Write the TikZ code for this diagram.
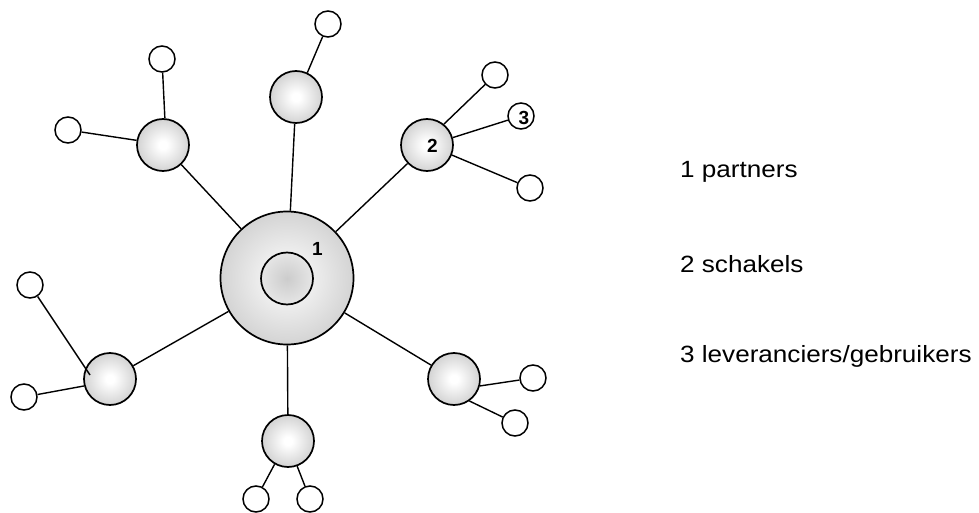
\documentclass[tikz,border=0pt]{standalone}
\usepackage{fontspec}
\setmainfont{Liberation Sans}
\definecolor{satgray}{gray}{0.62}
\definecolor{biggray}{gray}{0.66}
\definecolor{innergray}{gray}{0.80}
\pgfdeclareradialshading{satshade}{\pgfpoint{0bp}{0bp}}{color(0bp)=(white); color(4bp)=(white); color(50bp)=(satgray)}
\pgfdeclareradialshading{bigshade}{\pgfpoint{0bp}{0bp}}{color(0bp)=(white); color(50bp)=(biggray)}
\pgfdeclareradialshading{innershade}{\pgfpoint{0bp}{0bp}}{color(0bp)=(innergray); color(50bp)=(white)}
\begin{document}
\begin{tikzpicture}[x=1pt,y=-1pt,
  bigc/.style={circle,draw,line width=1.7pt,inner sep=0pt,minimum size=133pt,shading=bigshade},
  innerc/.style={circle,draw,line width=1.7pt,inner sep=0pt,minimum size=52pt,shading=innershade},
  sat/.style={circle,draw,line width=1.7pt,inner sep=0pt,minimum size=52pt,shading=satshade},
  leaf/.style={circle,draw,line width=1.5pt,inner sep=0pt,minimum size=26pt,fill=white},
  conn/.style={line width=1.4pt},
  numlab/.style={inner sep=0pt,font=\bfseries\fontsize{19}{19}\selectfont},
  legend/.style={inner sep=0pt,font=\fontsize{23.5}{28}\selectfont}]
\useasboundingbox (0,0) rectangle (979,513);
% central node
\node[bigc] (big) at (287,278) {};
\node[innerc] (inner) at (287,278.5) {};
% satellites
\node[sat] (top) at (296,97) {};
\node[sat] (two) at (427,145) {};
\node[sat] (tl) at (163,145) {};
\node[sat] (lb) at (110,379) {};
\node[sat] (bot) at (288,441) {};
\node[sat] (rb) at (454,379) {};
% leaves
\node[leaf] (t1) at (328,24) {};
\node[leaf] (a1) at (495,75) {};
\node[leaf] (a2) at (521,116) {};
\node[leaf] (a3) at (530,188) {};
\node[leaf] (b1) at (162,59) {};
\node[leaf] (b2) at (68,130) {};
\node[leaf] (c1) at (30,285) {};
\node[leaf] (c2) at (24,397) {};
\node[leaf] (d1) at (256,499) {};
\node[leaf] (d2) at (310,499) {};
\node[leaf] (e1) at (533,378) {};
\node[leaf] (e2) at (515,423) {};
\coordinate (cend) at (90,375);
% connectors
\draw[conn] (big) -- (top);
\draw[conn] (big) -- (two);
\draw[conn] (big) -- (tl);
\draw[conn] (big) -- (lb);
\draw[conn] (big) -- (bot);
\draw[conn] (big) -- (rb);
\draw[conn] (top.65) -- (t1);
\draw[conn] (two.51) -- (a1);
\draw[conn] (two.16) -- (a2);
\draw[conn] (two.338) -- (a3);
\draw[conn] (tl.86) -- (b1);
\draw[conn] (tl.170) -- (b2);
\draw[conn] (c1) -- (cend);
\draw[conn] (lb.195) -- (c2);
\draw[conn] (bot.240) -- (d1);
\draw[conn] (bot.290) -- (d2);
\draw[conn] (rb.345) -- (e1);
\draw[conn] (rb.305) -- (e2);
% numbers
\node[numlab] (n1) at (317.5,249) {1};
\node[numlab] (n2) at (432.5,146.3) {2};
\node[numlab] (n3) at (524,117.5) {3};
% legend
\node[legend,anchor=base west] (l1) at (680,178) {\scalebox{1.11}[1]{1 partners}};
\node[legend,anchor=base west] (l2) at (680,272) {\scalebox{1.11}[1]{2 schakels}};
\node[legend,anchor=base west] (l3) at (680,362) {\scalebox{1.11}[1]{3 leveranciers/gebruikers}};
\end{tikzpicture}
\end{document}
